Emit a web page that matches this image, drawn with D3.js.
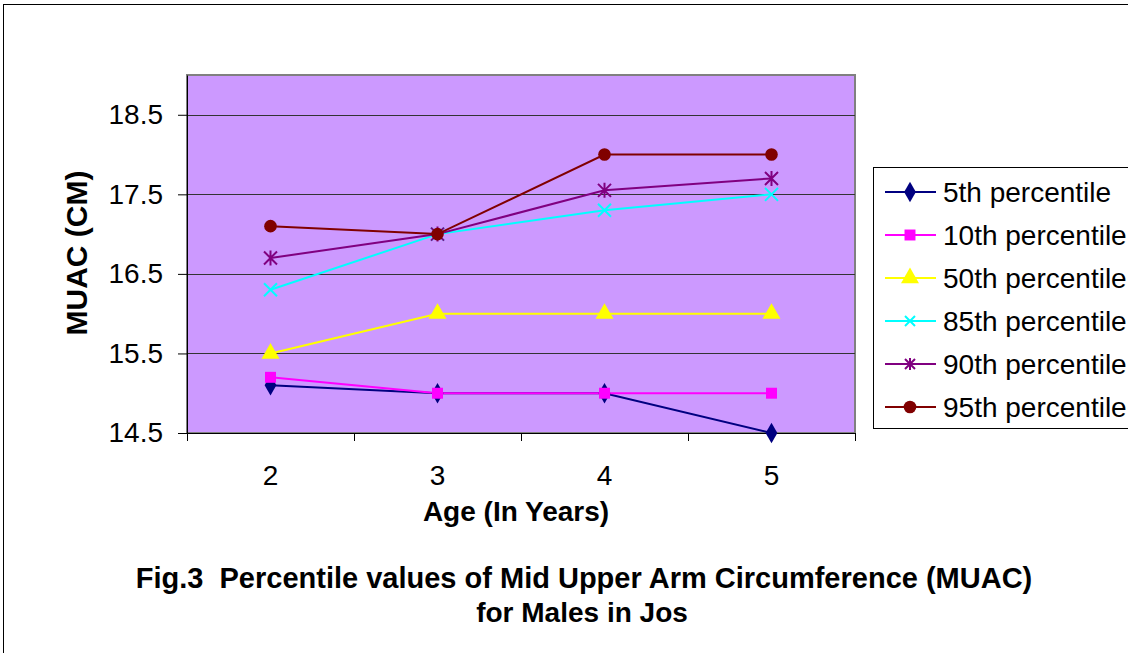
<!DOCTYPE html>
<html><head><meta charset="utf-8">
<script src="https://cdn.jsdelivr.net/npm/d3@7"></script>
<style>body{margin:0;background:#fff}svg{display:block;font-family:Arial,"Liberation Sans",sans-serif}</style>
</head><body>
<svg id="c" width="1128" height="653"></svg>
<script>
const categories = ["2","3","4","5"];
const seriesNames = ["5th percentile","10th percentile","50th percentile","85th percentile","90th percentile","95th percentile"];
const p5  = [15.1, 15.0, 15.0, 14.5];
const p10 = [15.2, 15.0, 15.0, 15.0];
const p50 = [15.5, 16.0, 16.0, 16.0];
const p85 = [16.3, 17.0, 17.3, 17.5];
const p90 = [16.7, 17.0, 17.55, 17.7];
const p95 = [17.1, 17.0, 18.0, 18.0];
const yTicks = [14.5, 15.5, 16.5, 17.5, 18.5];
const colors = ["#000080","#FF00FF","#FFFF00","#00FFFF","#800080","#800000"];
const markers = ["diamond","square","triangle","x","star","circle"];
const seriesValues = [p5,p10,p50,p85,p90,p95];
const FONT = "Arial,'Liberation Sans',sans-serif";

const svg = d3.select("#c");
svg.append("rect").attr("x",3.5).attr("y",4.5).attr("width",1140).attr("height",660)
  .attr("fill","#fff").attr("stroke","#000").attr("stroke-width",1);

const L=187, R=855, T=75, B=433;
const x = d3.scaleBand().domain(categories).range([L,R]);
const y = d3.scaleLinear().domain([14.5,19.0]).range([B,T]);

svg.append("rect").attr("x",L).attr("y",T).attr("width",R-L).attr("height",B-T)
  .attr("fill","#CC99FF").attr("stroke","#808080").attr("stroke-width",2);

// gridlines
svg.append("g").selectAll("line").data(yTicks.slice(1)).join("line")
  .attr("x1",L).attr("x2",R).attr("y1",d=>Math.round(y(d))+0.5).attr("y2",d=>Math.round(y(d))+0.5)
  .attr("stroke","#333").attr("stroke-width",1);

const yAxis = svg.append("g").attr("transform",`translate(${L},0)`)
  .call(d3.axisLeft(y).tickValues(yTicks).tickFormat(d3.format(".1f")).tickSize(9).tickSizeOuter(0).tickPadding(15));
yAxis.select(".domain").attr("stroke","#000");
yAxis.selectAll("line").attr("stroke","#000");
yAxis.attr("font-size",28).attr("font-family",FONT);
yAxis.selectAll("text").attr("fill","#000");

const xTickPos = categories.map(c=>x(c)).concat([R]);
const xg = svg.append("g");
xg.append("line").attr("x1",L).attr("x2",R).attr("y1",B+0.5).attr("y2",B+0.5).attr("stroke","#000");
xg.selectAll("line.t").data(xTickPos).join("line").attr("class","t")
  .attr("x1",d=>Math.round(d)+0.5).attr("x2",d=>Math.round(d)+0.5).attr("y1",B).attr("y2",B+8).attr("stroke","#000");
xg.selectAll("text").data(categories).join("text")
  .attr("x",d=>x(d)+x.bandwidth()/2).attr("y",B+52).attr("text-anchor","middle")
  .attr("font-size",28).text(d=>d);

function sym(type,size){
  const m={diamond:d3.symbolDiamond,square:d3.symbolSquare,triangle:d3.symbolTriangle,circle:d3.symbolCircle};
  return d3.symbol().type(m[type]).size(size)();
}
function drawMarker(g,type,color,s){
  if(type==="x"){
    g.append("path").attr("d",`M${-s},${-s}L${s},${s}M${-s},${s}L${s},${-s}`).attr("stroke",color).attr("stroke-width",2).attr("fill","none");
  } else if(type==="star"){
    g.append("path").attr("d",`M${-s},${-s}L${s},${s}M${-s},${s}L${s},${-s}M0,${-s-1}L0,${s+1}`).attr("stroke",color).attr("stroke-width",2).attr("fill","none");
  } else {
    const size = type==="square"?120:type==="triangle"?140:type==="circle"?125:120;
    g.append("path").attr("d",sym(type,size)).attr("fill",color);
  }
}

const line = d3.line().x((d,i)=>x(categories[i])+x.bandwidth()/2).y(d=>y(d));
seriesValues.forEach((vals,si)=>{
  svg.append("path").datum(vals).attr("d",line).attr("fill","none")
    .attr("stroke",colors[si]).attr("stroke-width",2);
});
seriesValues.forEach((vals,si)=>{
  vals.forEach((v,i)=>{
    const g = svg.append("g").attr("transform",`translate(${x(categories[i])+x.bandwidth()/2},${y(v)})`);
    drawMarker(g,markers[si],colors[si],6.5);
  });
});

// legend
const lg = svg.append("g");
lg.append("rect").attr("x",873.5).attr("y",167.5).attr("width",300).attr("height",261)
  .attr("fill","#fff").attr("stroke","#000");
seriesNames.forEach((n,i)=>{
  const yy = 192 + i*43;
  lg.append("line").attr("x1",885).attr("x2",936).attr("y1",yy).attr("y2",yy).attr("stroke",colors[i]).attr("stroke-width",2);
  const g = lg.append("g").attr("transform",`translate(910,${yy})`);
  drawMarker(g,markers[i],colors[i],5);
  lg.append("text").attr("x",943).attr("y",yy+10).attr("font-size",28).text(n);
});

// titles
svg.append("text").attr("transform","translate(87,253) rotate(-90)").attr("text-anchor","middle")
  .attr("font-size",30).attr("font-weight","bold").text("MUAC (CM)");
svg.append("text").attr("x",516).attr("y",521).attr("text-anchor","middle")
  .attr("font-size",28).attr("font-weight","bold").text("Age (In Years)");
svg.append("text").attr("x",584).attr("y",588).attr("text-anchor","middle").style("white-space","pre")
  .attr("font-size",29).attr("font-weight","bold").text("Fig.3  Percentile values of Mid Upper Arm Circumference (MUAC)");
svg.append("text").attr("x",582).attr("y",622).attr("text-anchor","middle")
  .attr("font-size",28).attr("font-weight","bold").text("for Males in Jos");
</script>
</body></html>
